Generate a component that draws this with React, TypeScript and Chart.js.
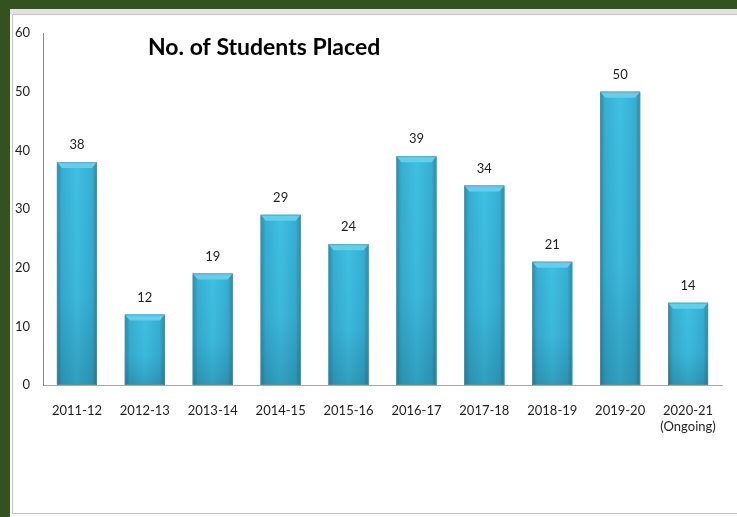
import React, { useEffect, useRef } from "react";
import { Chart, registerables } from "chart.js";

Chart.register(...registerables);

const categories: (string | string[])[] = [
  "2011-12", "2012-13", "2013-14", "2014-15", "2015-16",
  "2016-17", "2017-18", "2018-19", "2019-20", ["2020-21", "(Ongoing)"],
];
const placed = [38, 12, 19, 29, 24, 39, 34, 21, 50, 14];
const chartTitle = "No. of Students Placed";
const FONT = "Lato, 'Open Sans', sans-serif";

const framePlugin = {
  id: "frame",
  beforeDraw(chart: any) {
    const { ctx, width, height } = chart;
    ctx.save();
    ctx.fillStyle = "#33521f";
    ctx.fillRect(0, 0, width, height);
    ctx.fillStyle = "#ffffff";
    ctx.fillRect(10, 9, width - 10, height - 9);
    ctx.fillStyle = "#e2e2e2";
    ctx.fillRect(10, 9, width - 10, 5);
    ctx.strokeStyle = "#c4c4c4";
    ctx.lineWidth = 1;
    ctx.strokeRect(12.5, 14.5, width - 10, height - 18);
    ctx.restore();
  },
};

const barStylePlugin = {
  id: "barStyle",
  afterDatasetsDraw(chart: any) {
    const { ctx } = chart;
    const meta = chart.getDatasetMeta(0);
    ctx.save();
    meta.data.forEach((bar: any, i: number) => {
      const { x, y, base, width } = bar.getProps(["x", "y", "base", "width"], true);
      const l = x - width / 2;
      const r = x + width / 2;
      const g = ctx.createLinearGradient(l, 0, r, 0);
      g.addColorStop(0, "#2a8aa6");
      g.addColorStop(0.12, "#36aed2");
      g.addColorStop(0.5, "#3fc0e3");
      g.addColorStop(0.88, "#36aed2");
      g.addColorStop(1, "#2a8aa6");
      ctx.fillStyle = g;
      ctx.fillRect(l, y, width, base - y);
      const v = ctx.createLinearGradient(0, y, 0, base);
      v.addColorStop(0, "rgba(0,40,60,0)");
      v.addColorStop(0.6, "rgba(0,40,60,0.05)");
      v.addColorStop(1, "rgba(0,40,60,0.22)");
      ctx.fillStyle = v;
      ctx.fillRect(l, y, width, base - y);
      // top bevel
      ctx.fillStyle = "#62cfec";
      ctx.beginPath();
      ctx.moveTo(l, y);
      ctx.lineTo(r, y);
      ctx.lineTo(r - 5, y + 6);
      ctx.lineTo(l + 5, y + 6);
      ctx.closePath();
      ctx.fill();
      ctx.strokeStyle = "rgba(120,140,150,0.6)";
      ctx.lineWidth = 1;
      ctx.strokeRect(l + 0.5, y + 0.5, width - 1, base - y - 1);
      // value label
      ctx.fillStyle = "#1e1e1e";
      ctx.font = `13px ${FONT}`;
      ctx.textAlign = "center";
      ctx.textBaseline = "middle";
      ctx.fillText(String(placed[i]), x, y - 17);
    });
    ctx.restore();
  },
};

const titlePlugin = {
  id: "customTitle",
  afterDraw(chart: any) {
    const { ctx } = chart;
    ctx.save();
    ctx.fillStyle = "#000000";
    ctx.font = `bold 23px ${FONT}`;
    ctx.textAlign = "left";
    ctx.textBaseline = "middle";
    ctx.fillText(chartTitle, 148, 48);
    ctx.restore();
  },
};

export default function App() {
  const ref = useRef<HTMLCanvasElement | null>(null);
  useEffect(() => {
    document.body.style.margin = "0";
    const canvas = ref.current!;
    const chart = new Chart(canvas, {
      type: "bar",
      data: {
        labels: categories as any,
        datasets: [
          {
            data: placed,
            backgroundColor: "#3cb9dc",
            barPercentage: 0.59,
            categoryPercentage: 1,
          },
        ],
      },
      options: {
        animation: false,
        responsive: false,
        devicePixelRatio: 1,
        layout: { padding: { left: 0, top: 33, right: 15, bottom: 0 } },
        plugins: { legend: { display: false }, title: { display: false }, tooltip: { enabled: false } },
        scales: {
          x: {
            grid: { display: false, drawTicks: false },
            border: { display: true, color: "#a8a8a8", width: 1 },
            ticks: { color: "#1e1e1e", font: { family: FONT, size: 13 }, padding: 18, maxRotation: 0, autoSkip: false },
            afterFit(scale: any) { scale.height = 132; },
          },
          y: {
            min: 0,
            max: 60,
            grid: { display: false, drawTicks: false },
            border: { display: true, color: "#8a8a8a", width: 1 },
            ticks: { stepSize: 10, color: "#1e1e1e", font: { family: FONT, size: 13 }, padding: 13 },
            afterFit(scale: any) { scale.width = 43; },
          },
        },
      },
      plugins: [framePlugin, barStylePlugin, titlePlugin],
    });
    return () => chart.destroy();
  }, []);
  return <canvas ref={ref} width={737} height={517} style={{ display: "block" }} />;
}
